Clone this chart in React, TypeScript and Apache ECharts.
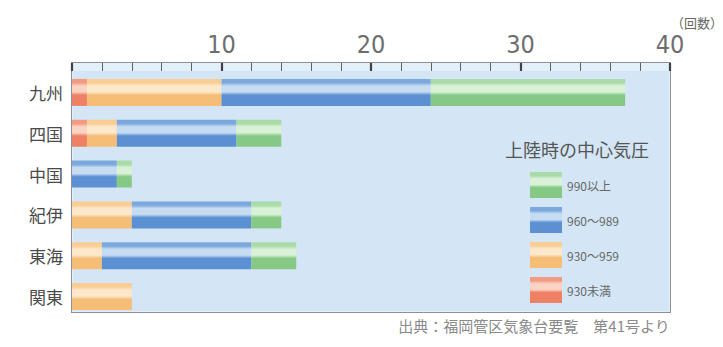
import React, { useEffect, useRef } from "react";
import * as echarts from "echarts";

// 地域別の台風上陸回数（上陸時の中心気圧別）
const regions = ["九州", "四国", "中国", "紀伊", "東海", "関東"];
const below930 = [1, 1, 0, 0, 0, 0];
const from930to959 = [9, 2, 0, 4, 2, 4];
const from960to989 = [14, 8, 3, 8, 10, 0];
const above990 = [13, 3, 1, 2, 3, 0];

const seriesNames = ["930未満", "930～959", "960～989", "990以上"];
const legendOrder = ["990以上", "960～989", "930～959", "930未満"];
const xRange = { min: 0, max: 40 };
const minorStep = 2;
const majorStep = 10;

// Striped fill: mid tone on top, pale highlight, deeper tone below
const band = (mid: string, light: string, dark: string) => ({
  type: "linear",
  x: 0,
  y: 0,
  x2: 0,
  y2: 1,
  colorStops: [
    { offset: 0, color: mid },
    { offset: 0.14, color: mid },
    { offset: 0.26, color: light },
    { offset: 0.48, color: light },
    { offset: 0.6, color: dark },
    { offset: 1, color: dark },
  ],
});

const fills = [
  band("#f29a82", "#fbd3c3", "#ee8064"),
  band("#f9cd93", "#fde8cb", "#f6bd76"),
  band("#7ba8dd", "#c6dcf2", "#5b90d2"),
  band("#a8dba7", "#d9f1d7", "#86c985"),
];

const values = [below930, from930to959, from960to989, above990];

export default function App() {
  const ref = useRef<HTMLDivElement>(null);

  useEffect(() => {
    if (!ref.current) return;
    const chart = echarts.init(ref.current, undefined, { renderer: "svg" });
    const jp = "'Noto Sans CJK JP', 'Noto Sans', sans-serif";
    const hidden = { show: false };

    chart.setOption({
      animation: false,
      backgroundColor: "transparent",
      grid: [
        // scale strip along the top of the frame
        { left: 72, top: 63, width: 598, height: 8 },
        // bars
        { left: 72, top: 72, width: 598, height: 245 },
      ],
      xAxis: [
        {
          gridIndex: 0,
          type: "value",
          position: "bottom",
          ...xRange,
          interval: minorStep,
          axisLine: hidden,
          axisTick: hidden,
          axisLabel: hidden,
          splitLine: { show: true, lineStyle: { color: "#5e6166", width: 1 } },
        },
        {
          gridIndex: 0,
          type: "value",
          position: "top",
          ...xRange,
          interval: majorStep,
          axisLine: hidden,
          axisTick: hidden,
          splitLine: { show: true, lineStyle: { color: "#3e4146", width: 2.2 } },
          axisLabel: {
            margin: 6,
            fontSize: 25,
            color: "#6e6e6e",
            fontFamily: "'Liberation Sans Narrow', 'DejaVu Sans Condensed', Roboto, sans-serif",
            formatter: (v: number) => (v === 0 ? "" : String(v)),
          },
        },
        { gridIndex: 1, type: "value", ...xRange, show: false },
      ],
      yAxis: [
        { gridIndex: 0, type: "value", show: false },
        {
          gridIndex: 1,
          type: "category",
          inverse: true,
          data: regions,
          axisLine: hidden,
          axisTick: hidden,
          axisLabel: {
            margin: 9,
            fontSize: 17,
            color: "#4a4a4a",
            fontFamily: jp,
          },
        },
      ],
      legend: {
        orient: "vertical",
        left: 525,
        top: 167,
        itemWidth: 32,
        itemHeight: 26,
        itemGap: 9,
        icon: "rect",
        data: legendOrder,
        textStyle: { fontSize: 12, color: "#666", fontFamily: jp },
      },
      series: seriesNames.map((name, i) => ({
        name,
        type: "bar",
        stack: "total",
        xAxisIndex: 2,
        yAxisIndex: 1,
        barWidth: 27,
        itemStyle: { color: fills[i] },
        data: values[i],
      })),
      graphic: [
        {
          type: "text",
          left: 505,
          top: 140,
          style: {
            text: "上陸時の中心気圧",
            fontSize: 18,
            fill: "#555",
            fontFamily: jp,
          },
        },
        {
          type: "text",
          left: 671,
          top: 16,
          style: {
            text: "（回数）",
            fontSize: 13,
            fill: "#666",
            fontFamily: jp,
          },
        },
        {
          type: "text",
          right: 53,
          top: 318,
          style: {
            text: "出典：福岡管区気象台要覧　第41号より",
            fontSize: 15,
            fill: "#8a8a8a",
            fontFamily: jp,
          },
        },
      ],
    });

    return () => chart.dispose();
  }, []);

  const abs = (left: number, top: number, width: number, height: number) => ({
    position: "absolute" as const,
    left,
    top,
    width,
    height,
  });

  return (
    <div style={{ ...abs(0, 0, 723, 347), background: "#ffffff" }}>
      {/* frame with the pale scale strip */}
      <div
        style={{
          ...abs(71, 62, 600, 251),
          boxSizing: "border-box",
          background: "#e4f0f9",
          border: "1.6px solid #8b9097",
        }}
      />
      {/* light-blue plot field */}
      <div style={{ ...abs(73, 71, 596, 240), background: "#d4e6f5" }} />
      <div ref={ref} style={abs(0, 0, 723, 347)} />
    </div>
  );
}
